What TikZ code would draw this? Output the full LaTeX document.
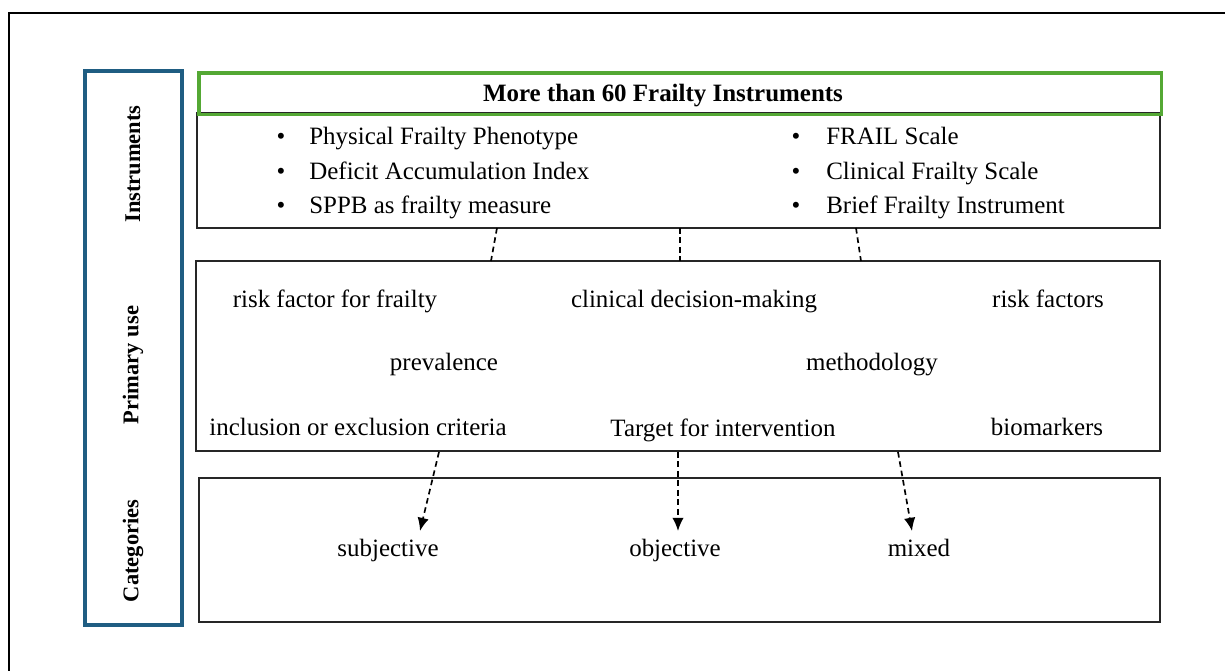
\documentclass[tikz,border=0pt]{standalone}
\usepackage{fontspec}
\setmainfont{Liberation Serif}
\usetikzlibrary{arrows.meta, positioning}

\definecolor{framegreen}{RGB}{84,168,52}
\definecolor{sideblue}{RGB}{31,93,130}

\tikzset{
    panel/.style={draw=black!85, line width=0.9pt, inner sep=0pt, outer sep=0pt, anchor=north west},
    item/.style={font=\fontsize{14.2}{17}\selectfont, inner sep=0pt, anchor=base},
    side/.style={font=\fontsize{12.8}{15}\selectfont\bfseries, rotate=90, inner sep=0pt},
    link/.style={dashed, dash pattern=on 3.2pt off 2.2pt, line width=0.95pt},
}

\begin{document}
\begin{tikzpicture}[x=0.02cm, y=-0.02cm]
            \useasboundingbox (0,0) rectangle (1225,671);

            % Frame

            \draw[line width=0.6pt] (9,671) -- (9,13) -- (1225,13);

            % Side column
            \node (sidebox) [draw=sideblue, line width=2pt, inner sep=0pt,
                minimum width=1.94cm, minimum height=11.08cm] at (133.5,348) {};
            \node[side] (lblinst) at (133,164) {Instruments};
            \node[side] (lbluse) at (133,365) {Primary use};
            \node[side] (lblcat) at (133,551) {Categories};

            % Boxes
            \node (instbox) [panel, minimum width=19.26cm, minimum height=2.3cm] at (197,113) {};
            \node (titlebox) [draw=framegreen, line width=2pt, inner sep=0pt, anchor=north west,
                minimum width=19.26cm, minimum height=0.84cm] at (197,71) {};
            \node (usebox) [panel, minimum width=19.28cm, minimum height=3.8cm] at (196,261) {};
            \node (catbox) [panel, minimum width=19.22cm, minimum height=2.88cm] at (199,478) {};

            \node[item, font=\fontsize{14.2}{17}\selectfont\bfseries] (title) at (663,102) {More than 60 Frailty Instruments};

            % Instruments
            \foreach \name/\txt/\yy in {a/Physical Frailty Phenotype/145, b/Deficit Accumulation Index/180, c/SPPB as frailty measure/214} {
                \node[item] (bl\name) at (281,\yy) {\textbullet};
                \node[item, anchor=base west] (il\name) at (309,\yy) {\txt};
            }
            \foreach \name/\txt/\yy in {a/FRAIL Scale/145, b/Clinical Frailty Scale/180, c/Brief Frailty Instrument/214} {
                \node[item] (br\name) at (796,\yy) {\textbullet};
                \node[item, anchor=base west] (ir\name) at (826,\yy) {\txt};
            }

            % Primary use
            \node[item] (riskfrail) at (335,308) {risk factor for frailty};
            \node[item] (clinical) at (694,308) {clinical decision-making};
            \node[item] (riskf) at (1048,308) {risk factors};
            \node[item] (prev) at (444,371) {prevalence};
            \node[item] (method) at (872,371) {methodology};
            \node[item] (incl) at (358,436) {inclusion or exclusion criteria};
            \node[item] (target) at (723,437) {Target for intervention};
            \node[item] (biom) at (1047,436) {biomarkers};

            % Categories
            \node[item] (subj) at (388,557) {subjective};
            \node[item] (obj) at (675,557) {objective};
            \node[item] (mixed) at (919,557) {mixed};

            % Links
            \coordinate (ia) at (497,228);
            \coordinate (ib) at (680,228);
            \coordinate (ic) at (856,228);
            \coordinate (ua) at (491,261);
            \coordinate (ub) at (680,261);
            \coordinate (uc) at (861,261);
            \draw[link] (ia) -- (ua);
            \draw[link] (ib) -- (ub);
            \draw[link] (ic) -- (uc);

            \coordinate (da) at (439,452);
            \coordinate (db) at (678,452);
            \coordinate (dc) at (898,452);
            \coordinate (ta) at (420,531);
            \coordinate (tb) at (678,531);
            \coordinate (tc) at (912,531);
            \draw[link, -{Latex[length=7.5pt, width=6.5pt]}] (da) -- (ta);
            \draw[link, -{Latex[length=7.5pt, width=6.5pt]}] (db) -- (tb);
            \draw[link, -{Latex[length=7.5pt, width=6.5pt]}] (dc) -- (tc);

        \end{tikzpicture}
\end{document}
